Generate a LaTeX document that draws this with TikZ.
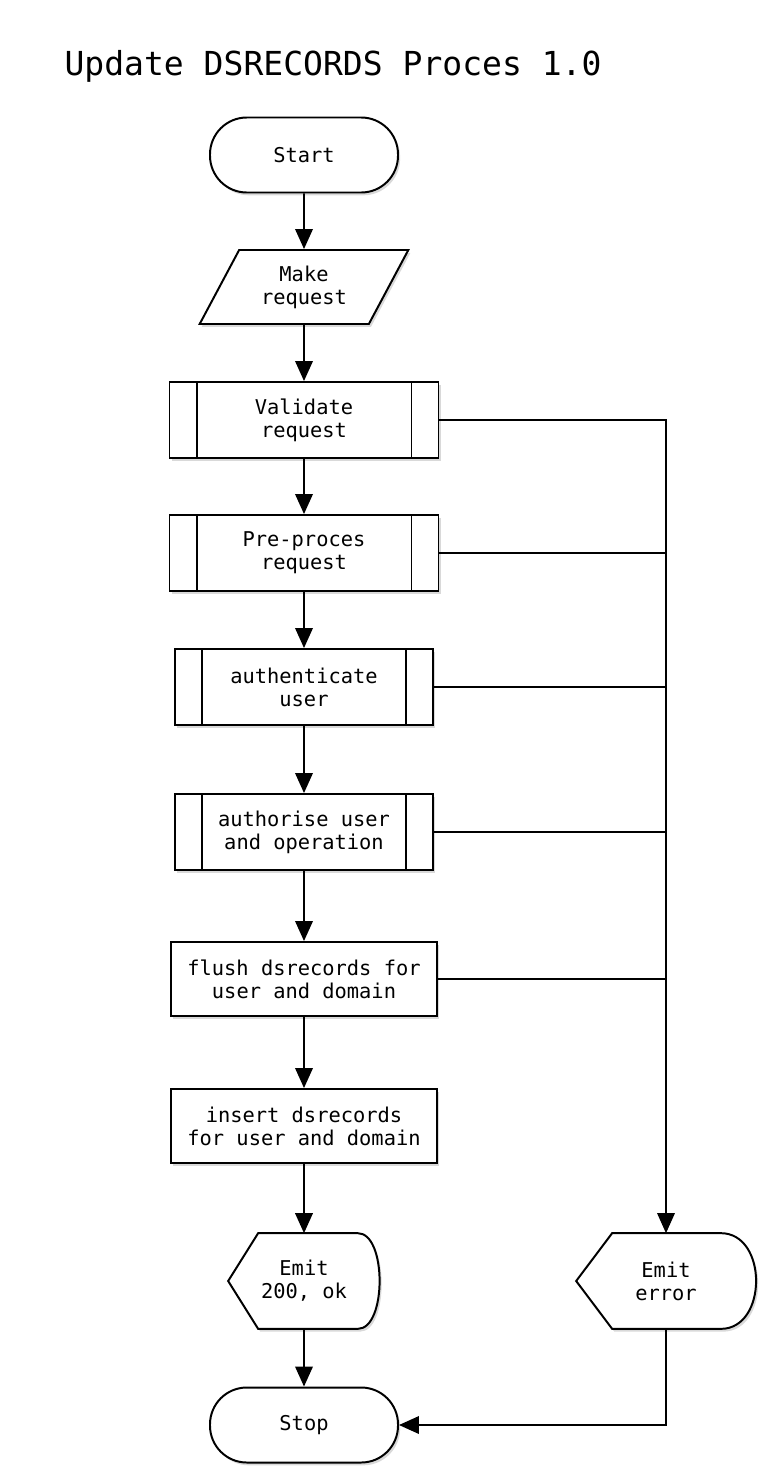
\documentclass[tikz,border=0pt]{standalone}
\usepackage{fontspec}
\newfontfamily\chartfont{DejaVu Sans Mono}
\usetikzlibrary{positioning}
\usetikzlibrary{shapes,arrows}
\usetikzlibrary{arrows.meta,shadows,backgrounds,calc}

\begin{document}
\begin{tikzpicture}[->, >={Triangle[length=5mm,width=4.4mm]}, line width=1.2pt]
\tikzstyle{box}=[draw=black,line width=1.4pt,fill=white,align=center,font=\chartfont\fontsize{14.5}{16.5}\selectfont,drop shadow={shadow xshift=1.5pt,shadow yshift=-2pt,opacity=0.3}]
\tikzstyle{term}=[box,rectangle,rounded corners=0.92cm,minimum width=4.7cm,minimum height=1.875cm]
\tikzstyle{io}=[box,trapezium,trapezium left angle=61,trapezium right angle=119,trapezium stretches,minimum width=5.225cm,minimum height=1.85cm]
\tikzstyle{sub}=[box,rectangle,minimum height=1.9cm]
\tikzstyle{proc}=[box,rectangle,minimum width=6.65cm,minimum height=1.85cm]
\tikzstyle{disp}=[align=center,font=\chartfont\fontsize{14.5}{16.5}\selectfont,minimum height=2.35cm]
\useasboundingbox (0,0) rectangle (19.1,-36.8);
\node[anchor=base west,font=\chartfont\fontsize{23.5}{23.5}\selectfont] (title) at (1.475,-1.875) {Update DSRECORDS Proces 1.0};
\node[term]    (start)  at (7.6,-3.875)   {Start};
\node[io]      (make)   at (7.6,-7.175)   {Make\\request};
\node[sub,minimum width=6.725cm] (valid) at (7.6,-10.5)   {Validate\\request};
\node[sub,minimum width=6.725cm] (prep)  at (7.6,-13.825) {Pre-proces\\request};
\node[sub,minimum width=6.45cm]  (authn) at (7.6,-17.175) {authenticate\\user};
\node[sub,minimum width=6.45cm]  (authz) at (7.6,-20.8)   {authorise user\\and operation};
\node[proc]    (flush)  at (7.6,-24.475)  {flush dsrecords for\\user and domain};
\node[proc]    (insert) at (7.6,-28.15)   {insert dsrecords\\for user and domain};
\node[disp,minimum width=3.75cm] (ok)  at (7.6,-32.025)  {Emit\\200, ok};
\node[disp,minimum width=4.45cm] (err) at (16.65,-32.025) {Emit\\error};
\node[term]    (stop)   at (7.6,-35.625)  {Stop};
% display shapes behind their text
\begin{scope}[on background layer]
\foreach \n/\a/\b/\c in {ok/0.75cm/0.55cm/0.175cm, err/0.9cm/0.875cm/0.3cm}
  \draw[-,line width=1.4pt,fill=white,drop shadow={shadow xshift=1.5pt,shadow yshift=-2pt,opacity=0.3}]
    (\n.west) -- ([xshift=\a]\n.north west) -- ([xshift=-\b]\n.north east)
    .. controls ([xshift=\c]\n.north east) and ([xshift=\c]\n.south east) .. ([xshift=-\b]\n.south east)
    -- ([xshift=\a]\n.south west) -- cycle;
\end{scope}
% double side bars of the sub processes
\foreach \n in {valid,prep,authn,authz}
  \draw[-,line width=1.4pt] ([xshift=0.7cm]\n.north west) -- ([xshift=0.7cm]\n.south west)
    ([xshift=-0.7cm]\n.north east) -- ([xshift=-0.7cm]\n.south east);
\path
(start) edge (make)
(make) edge (valid)
(valid) edge (prep)
(prep) edge (authn)
(authn) edge (authz)
(authz) edge (flush)
(flush) edge (insert)
(insert) edge (ok)
(ok) edge (stop)
;
% error branch
\draw[line width=0.9pt] (valid.east) -| (err.north);
\foreach \n in {prep,authn,authz,flush}
  \draw[-,line width=0.9pt] (\n.east) -- (\n.east -| err.north);
\draw (err.south) |- (stop.east);
\end{tikzpicture}
\end{document}
